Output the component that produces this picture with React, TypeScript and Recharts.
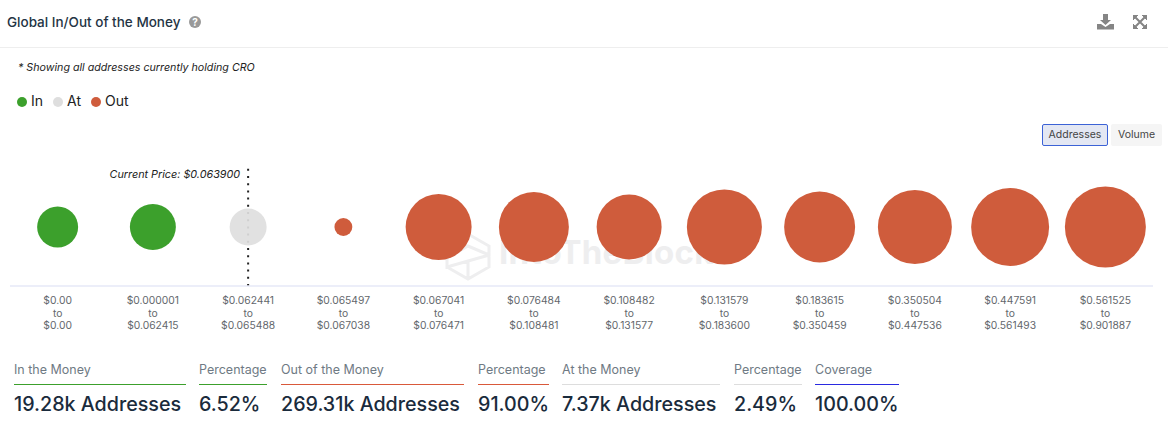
import React from 'react';
import { ScatterChart, Scatter, XAxis, YAxis, ZAxis, Legend, ReferenceLine } from 'recharts';

const GREEN = '#3ca02c';
const GREY = '#dedede';
const RED = '#cf5c3c';
const FONT = 'Inter, sans-serif';

const rangeFrom = ['$0.00', '$0.000001', '$0.062441', '$0.065497', '$0.067041', '$0.076484', '$0.108482', '$0.131579', '$0.183615', '$0.350504', '$0.447591', '$0.561525'];
const rangeTo = ['$0.00', '$0.062415', '$0.065488', '$0.067038', '$0.076471', '$0.108481', '$0.131577', '$0.183600', '$0.350459', '$0.447536', '$0.561493', '$0.901887'];
// thousands of addresses
const inValues = [10.5, 13.2];
const atValues = [8.55];
const outValues = [2.0, 27.2, 30.6, 26.4, 35.2, 31.5, 34.2, 38.0, 41.0];

const toPoint = (v: number, i: number) => ({ range: rangeFrom[i], y: 1, z: v });
const inData = inValues.map((v, i) => toPoint(v, i));
const atData = atValues.map((v, i) => toPoint(v, i + inValues.length));
const outData = outValues.map((v, i) => toPoint(v, i + inValues.length + atValues.length));

const statLabels = ['In the Money', 'Percentage', 'Out of the Money', 'Percentage', 'At the Money', 'Percentage', 'Coverage'];
const statValues = ['19.28k Addresses', '6.52%', '269.31k Addresses', '91.00%', '7.37k Addresses', '2.49%', '100.00%'];
const statLefts = [14, 199, 281, 478, 562, 734, 815];
const statWidths = [172, 68, 183, 71, 158, 68, 84];
const statColors = [GREEN, GREEN, '#d9593a', '#d9593a', '#dddddd', '#dddddd', '#2a2ae0'];

const RangeTick = ({ x, payload }: any) => {
  const i = rangeFrom.indexOf(payload.value);
  return (
    <text x={x} y={304} textAnchor="middle" fontSize={10.3} fontFamily={FONT} fill="#63676c">
      <tspan x={x}>{rangeFrom[i]}</tspan>
      <tspan x={x} dy={12.5}>to</tspan>
      <tspan x={x} dy={12.5}>{rangeTo[i]}</tspan>
    </text>
  );
};

const PriceLabel = ({ viewBox }: any) => (
  <text x={viewBox.x - 8} y={178} textAnchor="end" fontSize={10.8} fontStyle="italic" fontFamily={FONT} fill="#222">
    Current Price: $0.063900
  </text>
);

const abs = (left: number, top: number): React.CSSProperties => ({ position: 'absolute', left, top, whiteSpace: 'nowrap' });

const App = () => (
  <div style={{ position: 'absolute', left: 0, top: 0, width: 1168, height: 447, background: '#fff', overflow: 'hidden', fontFamily: FONT }}>
    <div style={{ ...abs(7, 14), fontSize: 13.5, fontWeight: 500, color: '#243444' }}>Global In/Out of the Money</div>
    <svg style={abs(189, 16)} width={12} height={12}>
      <circle cx={6} cy={6} r={6} fill="#999" />
      <text x={6} y={9.5} textAnchor="middle" fontSize={10} fontWeight={700} fill="#fff">?</text>
    </svg>
    <svg style={abs(1097, 14)} width={17} height={16} viewBox="0 0 17 16" fill="#858585">
      <path d="M6 0h5v6h3l-5.5 5L3 6h3z" />
      <path d="M0 10h4l4.5 3 4.5-3h4v5.5H0z" />
    </svg>
    <svg style={abs(1133, 15)} width={14} height={14} viewBox="0 0 14 14" fill="#858585" stroke="#858585">
      <path d="M0 0h5L0 5zM14 0v5L9 0zM0 14V9l5 5zM14 14H9l5-5z" />
      <path d="M2 2l10 10M12 2L2 12" strokeWidth={2} />
    </svg>
    <div style={{ ...abs(0, 47), width: 1168, height: 1, background: '#eeeeee' }} />
    <div style={{ ...abs(18, 61), fontSize: 10.7, fontStyle: 'italic', color: '#222' }}>* Showing all addresses currently holding CRO</div>

    <div style={{ ...abs(1042, 124), width: 64, height: 20, lineHeight: '20px', textAlign: 'center', fontSize: 10.5, color: '#444', background: '#e3e7f3', border: '1px solid #3b62d6', borderRadius: 2 }}>Addresses</div>
    <div style={{ ...abs(1111, 124), width: 51, height: 22, lineHeight: '22px', textAlign: 'center', fontSize: 10.5, color: '#444', background: '#f5f5f5', borderRadius: 2 }}>Volume</div>

    {/* watermark sits under the bubbles */}
    <svg style={abs(445, 232)} width={46} height={49} viewBox="0 0 46 49" fill="none" stroke="#eeeeef" strokeWidth={3}>
      <path d="M23 2l21 12v9L2 35v-9L23 14l21 9v-9M2 35l21 12 21-12V23M23 47V30M23 2L2 14v12" />
    </svg>
    <div style={{ ...abs(499, 232), fontSize: 33, fontWeight: 700, color: '#eeeeef', letterSpacing: 0.3 }}>IntoTheBlock</div>

    <div style={abs(0, 0)}>
      <ScatterChart width={1168} height={339} margin={{ top: 151, right: 15, bottom: 0, left: 10 }}>
        <XAxis
          dataKey="range"
          type="category"
          allowDuplicatedCategory={false}
          scale="band"
          axisLine={{ stroke: '#e6e9f7', strokeWidth: 1.5 }}
          tickLine={false}
          interval={0}
          height={53}
          tick={<RangeTick />}
        />
        <YAxis dataKey="y" type="number" domain={[0, 2]} hide />
        <ZAxis dataKey="z" type="number" domain={[0, 41]} range={[0, 5152]} />
        <Legend
          layout="horizontal"
          align="left"
          verticalAlign="top"
          iconType="circle"
          iconSize={10}
          itemSorter={null}
          wrapperStyle={{ left: 17, top: 92, width: 'auto', fontSize: 14 }}
          formatter={(value: string) => <span style={{ color: '#222' }}>{value}</span>}
        />
        <ReferenceLine x={rangeFrom[2]} stroke="#222" strokeWidth={2} strokeDasharray="2 5.2" label={<PriceLabel />} />
        <Scatter name="In" data={inData} fill={GREEN} legendType="circle" isAnimationActive={false} />
        <Scatter name="At" data={atData} fill={GREY} fillOpacity={0.92} legendType="circle" isAnimationActive={false} />
        <Scatter name="Out" data={outData} fill={RED} legendType="circle" isAnimationActive={false} />
      </ScatterChart>
    </div>

    {statLabels.map((label, i) => (
      <div key={i}>
        <div style={{ ...abs(statLefts[i], 362), fontSize: 12.5, color: '#6f7a84' }}>{label}</div>
        <div style={{ ...abs(statLefts[i], 384), width: statWidths[i], height: 1, background: statColors[i] }} />
        <div style={{ ...abs(statLefts[i], 392), fontSize: 19.7, fontWeight: 500, color: '#1a2b3c' }}>{statValues[i]}</div>
      </div>
    ))}
  </div>
);

export default App;
